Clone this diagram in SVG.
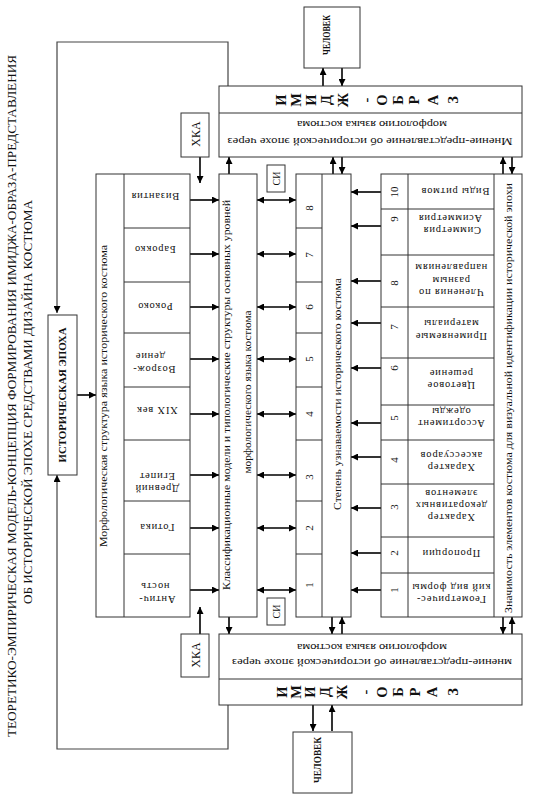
<svg xmlns="http://www.w3.org/2000/svg" width="534" height="794" viewBox="0 0 534 794">
<style>
.box{fill:#fff;stroke:#333;stroke-width:1}
.dv{fill:none;stroke:#333;stroke-width:1}
.lp{fill:none;stroke:#444;stroke-width:1.2}
.ar{fill:none;stroke:#000;stroke-width:1.6}
.t{font-family:"Liberation Serif","Times New Roman",serif;fill:#111;text-anchor:middle}
.s10{font-size:10.5px}
.c{font-size:10.5px;letter-spacing:0.8px}
.n{font-size:11px}
.b{font-weight:bold}
</style>
<defs>
<marker id="ah" viewBox="0 0 10 10" refX="10" refY="5" markerWidth="8" markerHeight="7" markerUnits="userSpaceOnUse" orient="auto-start-reverse"><path d="M0,0 L10,5 L0,10 z" fill="#000"/></marker>
</defs>

<g id="title">
<text class="t" style="font-size:12.5px" transform="translate(12,396) rotate(-90)" dy="0.35em" textLength="682" lengthAdjust="spacingAndGlyphs">ТЕОРЕТИКО-ЭМПИРИЧЕСКАЯ МОДЕЛЬ-КОНЦЕПЦИЯ ФОРМИРОВАНИЯ ИМИДЖА-ОБРАЗА-ПРЕДСТАВЛЕНИЯ</text>
<text class="t" style="font-size:12.5px" transform="translate(28,402) rotate(-90)" dy="0.35em" textLength="404" lengthAdjust="spacingAndGlyphs">ОБ ИСТОРИЧЕСКОЙ ЭПОХЕ СРЕДСТВАМИ ДИЗАЙНА КОСТЮМА</text>
</g>

<g id="connectors">
<path class="lp" d="M228,86 V42 H57 V313" marker-end="url(#ah)"/>
<path class="lp" d="M228,705 V749 H57 V475" marker-end="url(#ah)"/>
<path class="ar" d="M77,395 H96" marker-end="url(#ah)"/>
<path class="ar" d="M323,86 V68" marker-end="url(#ah)"/>
<path class="ar" d="M342,68 V86" marker-end="url(#ah)"/>
<path class="ar" d="M313,705 V731" marker-end="url(#ah)"/>
<path class="ar" d="M332,731 V705" marker-end="url(#ah)"/>
<path class="ar" d="M200,157 V183" marker-end="url(#ah)"/>
<path class="ar" d="M200,634 V607" marker-end="url(#ah)"/>
<path class="ar" d="M229,174 V157" marker-end="url(#ah)"/>
<path class="ar" d="M229,617 V634" marker-end="url(#ah)"/>
<path class="ar" d="M333,174 V157" marker-end="url(#ah)"/>
<path class="ar" d="M342,157 V174" marker-end="url(#ah)"/>
<path class="ar" d="M332,617 V634" marker-end="url(#ah)"/>
<path class="ar" d="M342,634 V617" marker-end="url(#ah)"/>
<path class="ar" d="M503,174 V157" marker-end="url(#ah)"/>
<path class="ar" d="M512,157 V174" marker-end="url(#ah)"/>
<path class="ar" d="M503,617 V634" marker-end="url(#ah)"/>
<path class="ar" d="M512,634 V617" marker-end="url(#ah)"/>
<path class="ar" d="M190,200 H219" marker-end="url(#ah)"/>
<path class="ar" d="M190,254 H219" marker-end="url(#ah)"/>
<path class="ar" d="M190,307 H219" marker-end="url(#ah)"/>
<path class="ar" d="M190,359 H219" marker-end="url(#ah)"/>
<path class="ar" d="M190,414 H219" marker-end="url(#ah)"/>
<path class="ar" d="M190,475 H219" marker-end="url(#ah)"/>
<path class="ar" d="M190,528 H219" marker-end="url(#ah)"/>
<path class="ar" d="M190,590 H219" marker-end="url(#ah)"/>
<path class="ar" d="M257,200 H296" marker-start="url(#ah)" marker-end="url(#ah)"/>
<path class="ar" d="M257,254 H296" marker-start="url(#ah)" marker-end="url(#ah)"/>
<path class="ar" d="M257,307 H296" marker-start="url(#ah)" marker-end="url(#ah)"/>
<path class="ar" d="M257,359 H296" marker-start="url(#ah)" marker-end="url(#ah)"/>
<path class="ar" d="M257,414 H296" marker-start="url(#ah)" marker-end="url(#ah)"/>
<path class="ar" d="M257,475 H296" marker-start="url(#ah)" marker-end="url(#ah)"/>
<path class="ar" d="M257,528 H296" marker-start="url(#ah)" marker-end="url(#ah)"/>
<path class="ar" d="M257,590 H296" marker-start="url(#ah)" marker-end="url(#ah)"/>
<path class="ar" d="M381,192 H351" marker-end="url(#ah)"/>
<path class="ar" d="M381,226 H351" marker-end="url(#ah)"/>
<path class="ar" d="M381,281 H351" marker-end="url(#ah)"/>
<path class="ar" d="M381,323 H351" marker-end="url(#ah)"/>
<path class="ar" d="M381,368 H351" marker-end="url(#ah)"/>
<path class="ar" d="M381,423 H351" marker-end="url(#ah)"/>
<path class="ar" d="M381,457 H351" marker-end="url(#ah)"/>
<path class="ar" d="M381,508 H351" marker-end="url(#ah)"/>
<path class="ar" d="M381,553 H351" marker-end="url(#ah)"/>
<path class="ar" d="M381,590 H351" marker-end="url(#ah)"/>
</g>

<g id="epoch">
<rect class="box" x="48" y="315" width="29" height="160"/>
<text class="t b" style="font-size:11px" transform="translate(62.5,395) rotate(-90)" dy="0.35em" textLength="135" lengthAdjust="spacingAndGlyphs">ИСТОРИЧЕСКАЯ ЭПОХА</text>
</g>

<g id="chelovek-top">
<rect class="box" x="304" y="7" width="56" height="61"/>
<text class="t b" style="font-size:9.5px" transform="translate(327,35) rotate(-90)" dy="0.35em" textLength="40" lengthAdjust="spacingAndGlyphs">ЧЕЛОВЕК</text>
</g>
<g id="chelovek-bottom">
<rect class="box" x="293" y="732" width="59" height="61"/>
<text class="t b" style="font-size:9.5px" transform="translate(318,760) rotate(-90)" dy="0.35em" textLength="46" lengthAdjust="spacingAndGlyphs">ЧЕЛОВЕК</text>
</g>

<g id="image-top">
<rect class="box" x="219" y="86" width="303" height="71"/>
<path class="dv" d="M219,113 H522"/>
<g class="t b" style="font-size:14.5px">
<text transform="translate(281,100) rotate(-90)" dy="0.35em">И</text>
<text transform="translate(296,100) rotate(-90)" dy="0.35em">М</text>
<text transform="translate(311,100) rotate(-90)" dy="0.35em">И</text>
<text transform="translate(326,100) rotate(-90)" dy="0.35em">Д</text>
<text transform="translate(343,100) rotate(-90)" dy="0.35em">Ж</text>
<text transform="translate(366,100) rotate(-90)" dy="0.35em">-</text>
<text transform="translate(382,100) rotate(-90)" dy="0.35em">О</text>
<text transform="translate(398,100) rotate(-90)" dy="0.35em">Б</text>
<text transform="translate(414,100) rotate(-90)" dy="0.35em">Р</text>
<text transform="translate(433,100) rotate(-90)" dy="0.35em">А</text>
<text transform="translate(453,100) rotate(-90)" dy="0.35em">З</text>
</g>
<text class="t s10" transform="translate(370,142) rotate(180)" dy="0.35em" textLength="285" lengthAdjust="spacingAndGlyphs">Мнение-представление об исторической эпохе через</text>
<text class="t s10" transform="translate(372,125) rotate(180)" dy="0.35em" textLength="150" lengthAdjust="spacingAndGlyphs">морфологию языка костюма</text>
</g>

<g id="image-bottom">
<rect class="box" x="219" y="634" width="303" height="71"/>
<path class="dv" d="M219,679 H522"/>
<g class="t b" style="font-size:14.5px">
<text transform="translate(282,692) rotate(-90)" dy="0.35em">И</text>
<text transform="translate(296,692) rotate(-90)" dy="0.35em">М</text>
<text transform="translate(310,692) rotate(-90)" dy="0.35em">И</text>
<text transform="translate(325,692) rotate(-90)" dy="0.35em">Д</text>
<text transform="translate(342,692) rotate(-90)" dy="0.35em">Ж</text>
<text transform="translate(365,692) rotate(-90)" dy="0.35em">-</text>
<text transform="translate(382,692) rotate(-90)" dy="0.35em">О</text>
<text transform="translate(398,692) rotate(-90)" dy="0.35em">Б</text>
<text transform="translate(415,692) rotate(-90)" dy="0.35em">Р</text>
<text transform="translate(432,692) rotate(-90)" dy="0.35em">А</text>
<text transform="translate(453,692) rotate(-90)" dy="0.35em">З</text>
</g>
<text class="t s10" transform="translate(372,663) rotate(180)" dy="0.35em" textLength="280" lengthAdjust="spacingAndGlyphs">мнение-представление об исторической эпохе через</text>
<text class="t s10" transform="translate(372,648) rotate(180)" dy="0.35em" textLength="150" lengthAdjust="spacingAndGlyphs">морфологию языка костюма</text>
</g>

<g id="hka-top">
<rect class="box" x="181" y="113" width="28" height="44"/>
<text class="t" style="font-size:12px" transform="translate(196,134) rotate(-90)" dy="0.35em">ХКА</text>
</g>
<g id="hka-bottom">
<rect class="box" x="181" y="634" width="28" height="43"/>
<text class="t" style="font-size:12px" transform="translate(196,655) rotate(-90)" dy="0.35em">ХКА</text>
</g>
<g id="si-top">
<rect class="box" x="267" y="165" width="18" height="27"/>
<text class="t" style="font-size:10px" transform="translate(276,178.5) rotate(-90)" dy="0.35em">СИ</text>
</g>
<g id="si-bottom">
<rect class="box" x="267" y="598" width="18" height="27"/>
<text class="t" style="font-size:10px" transform="translate(276,611.5) rotate(-90)" dy="0.35em">СИ</text>
</g>

<g id="morphology">
<rect class="box" x="96" y="174" width="94" height="443"/>
<path class="dv" d="M124,174 V617 M124,228 H190 M124,282 H190 M124,333 H190 M124,387 H190 M124,440 H190 M124,501 H190 M124,554 H190"/>
<text class="t s10" transform="translate(103,396) rotate(-90)" dy="0.35em" textLength="302" lengthAdjust="spacingAndGlyphs">Морфологическая структура языка исторического костюма</text>
<g class="t c">
<text transform="translate(155,197) rotate(180)" dy="0.35em">Византия</text>
<text transform="translate(155,250) rotate(180)" dy="0.35em">Барокко</text>
<text transform="translate(155,307) rotate(180)" dy="0.35em">Рококо</text>
<text transform="translate(154,370) rotate(180)" dy="0.35em">Возрож-</text>
<text transform="translate(150,357) rotate(180)" dy="0.35em">дение</text>
<text transform="translate(157,411) rotate(180)" dy="0.35em">XIX век</text>
<text transform="translate(157,489) rotate(180)" dy="0.35em">Древний</text>
<text transform="translate(157,477) rotate(180)" dy="0.35em">Египет</text>
<text transform="translate(157,528) rotate(180)" dy="0.35em">Готика</text>
<text transform="translate(157,600) rotate(180)" dy="0.35em">Антич-</text>
<text transform="translate(155,587) rotate(180)" dy="0.35em">ность</text>
</g>
</g>

<g id="classification">
<rect class="box" x="219" y="174" width="38" height="443"/>
<text class="t s10" transform="translate(226,395) rotate(-90)" dy="0.35em" textLength="390" lengthAdjust="spacingAndGlyphs">Классификационные модели и типологические структуры основных уровней</text>
<text class="t s10" transform="translate(247,392) rotate(-90)" dy="0.35em" textLength="163" lengthAdjust="spacingAndGlyphs">морфологического языка костюма</text>
</g>

<g id="degree">
<rect class="box" x="296" y="174" width="55" height="443"/>
<path class="dv" d="M322,174 V617 M296,228 H322 M296,282 H322 M296,333 H322 M296,387 H322 M296,440 H322 M296,501 H322 M296,554 H322"/>
<text class="t s10" transform="translate(337,394) rotate(-90)" dy="0.35em" textLength="232" lengthAdjust="spacingAndGlyphs">Степень узнаваемости исторического костюма</text>
<g class="t n">
<text transform="translate(309,208) rotate(-90)" dy="0.35em">8</text>
<text transform="translate(309,255) rotate(-90)" dy="0.35em">7</text>
<text transform="translate(309,307) rotate(-90)" dy="0.35em">6</text>
<text transform="translate(309,359) rotate(-90)" dy="0.35em">5</text>
<text transform="translate(309,414) rotate(-90)" dy="0.35em">4</text>
<text transform="translate(309,477) rotate(-90)" dy="0.35em">3</text>
<text transform="translate(309,528) rotate(-90)" dy="0.35em">2</text>
<text transform="translate(309,585) rotate(-90)" dy="0.35em">1</text>
</g>
</g>

<g id="significance">
<rect class="box" x="381" y="174" width="141" height="443"/>
<path class="dv" d="M408,174 V617 M494,174 V617 M381,209 H494 M381,255 H494 M381,307 H494 M381,358 H494 M381,405 H494 M381,440 H494 M381,484 H494 M381,537 H494 M381,573 H494"/>
<text class="t s10" transform="translate(508,398) rotate(-90)" dy="0.35em" textLength="430" lengthAdjust="spacingAndGlyphs">Значимость элементов костюма для визуальной идентификации исторической эпохи</text>
<g class="t n">
<text transform="translate(394,192) rotate(-90)" dy="0.35em">10</text>
<text transform="translate(394,219) rotate(-90)" dy="0.35em">9</text>
<text transform="translate(394,283) rotate(-90)" dy="0.35em">8</text>
<text transform="translate(394,327) rotate(-90)" dy="0.35em">7</text>
<text transform="translate(394,368) rotate(-90)" dy="0.35em">6</text>
<text transform="translate(394,418) rotate(-90)" dy="0.35em">5</text>
<text transform="translate(394,460) rotate(-90)" dy="0.35em">4</text>
<text transform="translate(394,507) rotate(-90)" dy="0.35em">3</text>
<text transform="translate(394,553) rotate(-90)" dy="0.35em">2</text>
<text transform="translate(394,590) rotate(-90)" dy="0.35em">1</text>
</g>
<g class="t c">
<text transform="translate(455,192) rotate(180)" dy="0.35em">Виды ритмов</text>
<text transform="translate(452,231) rotate(180)" dy="0.35em">Симметрия</text>
<text transform="translate(450,219) rotate(180)" dy="0.35em">Асимметрия</text>
<text transform="translate(451,293) rotate(180)" dy="0.35em">Членения по</text>
<text transform="translate(451,281) rotate(180)" dy="0.35em">разным</text>
<text transform="translate(451,268) rotate(180)" dy="0.35em">направлениям</text>
<text transform="translate(451,337) rotate(180)" dy="0.35em">Применяемые</text>
<text transform="translate(451,324) rotate(180)" dy="0.35em">материалы</text>
<text transform="translate(451,386) rotate(180)" dy="0.35em">Цветовое</text>
<text transform="translate(451,374) rotate(180)" dy="0.35em">решение</text>
<text transform="translate(451,424) rotate(180)" dy="0.35em">Ассортимент</text>
<text transform="translate(451,412) rotate(180)" dy="0.35em">одежды</text>
<text transform="translate(451,468) rotate(180)" dy="0.35em">Характер</text>
<text transform="translate(451,456) rotate(180)" dy="0.35em">аксессуаров</text>
<text transform="translate(451,518) rotate(180)" dy="0.35em">Характер</text>
<text transform="translate(451,506) rotate(180)" dy="0.35em">декоративных</text>
<text transform="translate(451,494) rotate(180)" dy="0.35em">элементов</text>
<text transform="translate(451,554) rotate(180)" dy="0.35em">Пропорции</text>
<text transform="translate(451,600) rotate(180)" dy="0.35em">Геометричес-</text>
<text transform="translate(451,588) rotate(180)" dy="0.35em">кий вид формы</text>
</g>
</g>
</svg>
